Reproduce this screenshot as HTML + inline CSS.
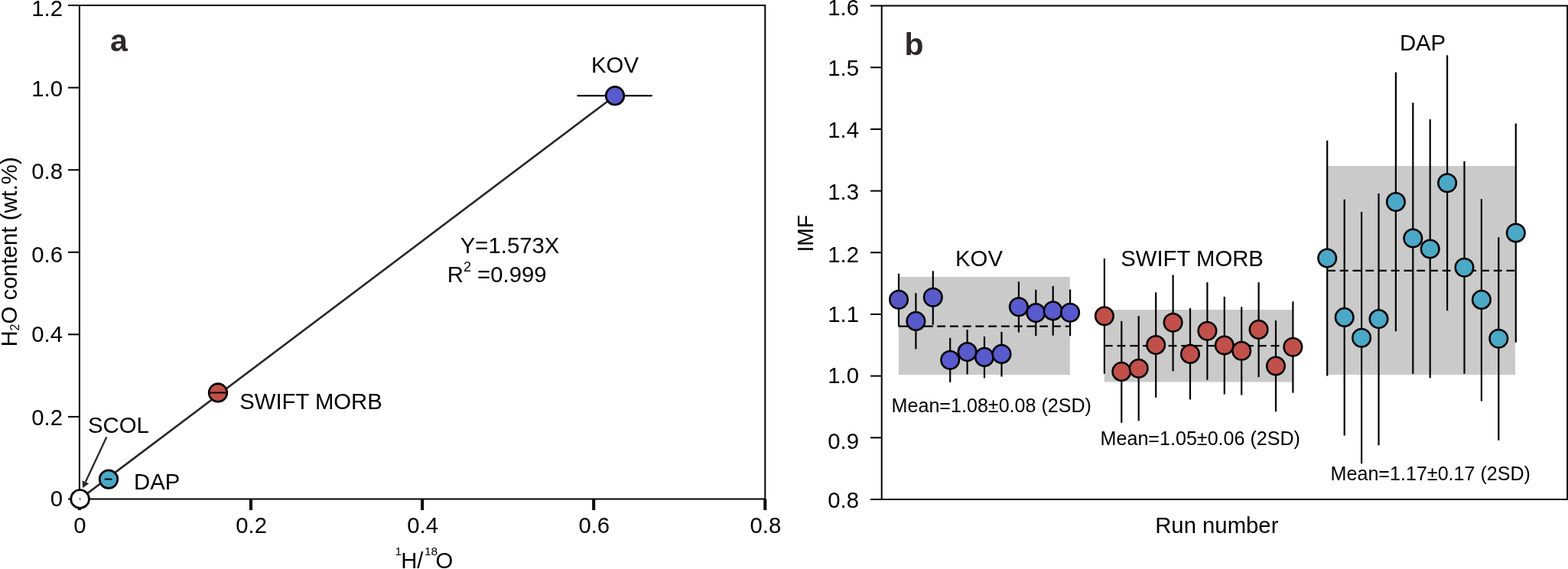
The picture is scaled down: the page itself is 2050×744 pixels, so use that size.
<!DOCTYPE html>
<html><head><meta charset="utf-8"><title>Figure</title>
<style>
html,body{margin:0;padding:0;background:#fff;width:2050px;height:744px;overflow:hidden}
svg{display:block}
text{font-family:"Liberation Sans", Arial, Helvetica, sans-serif;fill:#000}
.t{font-size:29.3px}
.m{font-size:25.1px}
.lbl{font-size:41px;font-weight:bold;fill:#2f2828}
.sup{font-size:18px}
.sup2{font-size:15.5px}
.sub{font-size:16px}
</style></head><body>
<svg width="2050" height="744" viewBox="0 0 2050 744">
<path d="M103.9 652.5 V7.0 H1000.3 V652.5 Z" fill="none" stroke="#000" stroke-width="2.0"/>
<line x1="89" y1="652.5" x2="103.9" y2="652.5" stroke="#000" stroke-width="2.0"/>
<line x1="89" y1="544.9" x2="103.9" y2="544.9" stroke="#000" stroke-width="2.0"/>
<line x1="89" y1="437.3" x2="103.9" y2="437.3" stroke="#000" stroke-width="2.0"/>
<line x1="89" y1="329.8" x2="103.9" y2="329.8" stroke="#000" stroke-width="2.0"/>
<line x1="89" y1="222.2" x2="103.9" y2="222.2" stroke="#000" stroke-width="2.0"/>
<line x1="89" y1="114.6" x2="103.9" y2="114.6" stroke="#000" stroke-width="2.0"/>
<line x1="89" y1="7.0" x2="103.9" y2="7.0" stroke="#000" stroke-width="2.0"/>
<line x1="103.9" y1="652.5" x2="103.9" y2="667" stroke="#000" stroke-width="4"/>
<line x1="328.0" y1="652.5" x2="328.0" y2="667" stroke="#000" stroke-width="4"/>
<line x1="552.1" y1="652.5" x2="552.1" y2="667" stroke="#000" stroke-width="4"/>
<line x1="776.2" y1="652.5" x2="776.2" y2="667" stroke="#000" stroke-width="4"/>
<line x1="1000.3" y1="652.5" x2="1000.3" y2="667" stroke="#000" stroke-width="4"/>
<text x="82.00" y="661.5" class="t" text-anchor="end">0</text>
<text x="82.00" y="556.3" class="t" text-anchor="end">0.2</text>
<text x="82.00" y="447.1" class="t" text-anchor="end">0.4</text>
<text x="82.00" y="342.9" class="t" text-anchor="end">0.6</text>
<text x="82.00" y="233.9" class="t" text-anchor="end">0.8</text>
<text x="82.00" y="125.9" class="t" text-anchor="end">1.0</text>
<text x="82.00" y="21.0" class="t" text-anchor="end">1.2</text>
<text x="104.50" y="697" class="t" text-anchor="middle">0</text>
<text x="328.60" y="697" class="t" text-anchor="middle">0.2</text>
<text x="552.70" y="697" class="t" text-anchor="middle">0.4</text>
<text x="776.80" y="697" class="t" text-anchor="middle">0.6</text>
<text x="1000.90" y="697" class="t" text-anchor="middle">0.8</text>
<line x1="104.6" y1="652.4" x2="804" y2="125.2" stroke="#2b2626" stroke-width="2.6"/>
<line x1="754.5" y1="125.2" x2="852.7" y2="125.2" stroke="#000" stroke-width="2.2"/>
<line x1="139.3" y1="571.4" x2="111.9" y2="630.0" stroke="#2b2626" stroke-width="2.3"/>
<polygon points="108.2,637.9 107.6,628.3 116.3,632.2" fill="#2b2626"/>
<circle cx="804.0" cy="125.2" r="11.8" fill="#585acd" stroke="#000" stroke-width="2.7"/>
<circle cx="285" cy="513.5" r="11.8" fill="#c2504a" stroke="#000" stroke-width="2.7"/>
<line x1="275" y1="513.5" x2="295.4" y2="513.5" stroke="#000" stroke-width="2"/>
<circle cx="142" cy="626.6" r="11.8" fill="#4ba8c6" stroke="#000" stroke-width="2.7"/>
<line x1="136.7" y1="626.6" x2="146.5" y2="626.6" stroke="#000" stroke-width="2"/>
<circle cx="104.6" cy="652.4" r="11.9" fill="#fff" stroke="#000" stroke-width="2.7"/>
<circle cx="104.6" cy="652.4" r="0.9" fill="#000"/>
<text x="144" y="66.9" class="lbl">a</text>
<text x="804.00" y="95" class="t" text-anchor="middle">KOV</text>
<text x="313.20" y="534.9" class="t">SWIFT MORB</text>
<text x="115.00" y="565.8" class="t">SCOL</text>
<text x="175.00" y="639.7" class="t">DAP</text>
<text x="601.80" y="331" class="t">Y=1.573X</text>
<text x="584.80" y="368.7" class="t">R<tspan class="sup" dy="-13.7">2</tspan><tspan dy="13.7"> =0.999</tspan></text>
<text transform="translate(22.3,453.6) rotate(-90) scale(1.0,1)" class="t">H<tspan class="sub" dy="2.2">2</tspan><tspan dy="-2.2">O content (wt.%)</tspan></text>
<text x="516.50" y="743" transform="scale(1.0,1)" class="t"><tspan class="sup2" dy="-16.7">1</tspan><tspan x="524.20" dy="16.7">H/</tspan><tspan class="sup2" x="555.00" dy="-16.7">18</tspan><tspan x="569.60" dy="16.7">O</tspan></text>
<path d="M1152.7 653.0 V7.5 H2049.2 V653.0 Z" fill="none" stroke="#000" stroke-width="2.0"/>
<line x1="1138" y1="653.0" x2="1152.7" y2="653.0" stroke="#000" stroke-width="2.0"/>
<text x="1123.00" y="663.7" class="t" text-anchor="end">0.8</text>
<line x1="1138" y1="572.3" x2="1152.7" y2="572.3" stroke="#000" stroke-width="2.0"/>
<text x="1123.00" y="587.1" class="t" text-anchor="end">0.9</text>
<line x1="1138" y1="491.6" x2="1152.7" y2="491.6" stroke="#000" stroke-width="2.0"/>
<text x="1123.00" y="501.0" class="t" text-anchor="end">1.0</text>
<line x1="1138" y1="410.9" x2="1152.7" y2="410.9" stroke="#000" stroke-width="2.0"/>
<text x="1123.00" y="420.6" class="t" text-anchor="end">1.1</text>
<line x1="1138" y1="330.2" x2="1152.7" y2="330.2" stroke="#000" stroke-width="2.0"/>
<text x="1123.00" y="343.1" class="t" text-anchor="end">1.2</text>
<line x1="1138" y1="249.6" x2="1152.7" y2="249.6" stroke="#000" stroke-width="2.0"/>
<text x="1123.00" y="261.0" class="t" text-anchor="end">1.3</text>
<line x1="1138" y1="168.9" x2="1152.7" y2="168.9" stroke="#000" stroke-width="2.0"/>
<text x="1123.00" y="179.8" class="t" text-anchor="end">1.4</text>
<line x1="1138" y1="88.2" x2="1152.7" y2="88.2" stroke="#000" stroke-width="2.0"/>
<text x="1123.00" y="98.8" class="t" text-anchor="end">1.5</text>
<line x1="1138" y1="7.5" x2="1152.7" y2="7.5" stroke="#000" stroke-width="2.0"/>
<text x="1123.00" y="20.2" class="t" text-anchor="end">1.6</text>
<rect x="1174.8" y="362" width="224" height="128" fill="#c9cac9"/>
<rect x="1443.8" y="405" width="245.7" height="94.5" fill="#c9cac9"/>
<rect x="1735.3" y="217" width="245.8" height="273" fill="#c9cac9"/>
<line x1="1174.8" y1="426.6" x2="1220" y2="426.6" stroke="#000" stroke-width="2.2"/>
<line x1="1225.2" y1="426.6" x2="1398.8" y2="426.6" stroke="#000" stroke-width="2.2" stroke-dasharray="10.85 5.9"/>
<line x1="1443.8" y1="452.2" x2="1690" y2="452.2" stroke="#000" stroke-width="2.2" stroke-dasharray="10.85 5.9"/>
<line x1="1735" y1="353.8" x2="1981" y2="353.8" stroke="#000" stroke-width="2.2" stroke-dasharray="10.85 5.9"/>
<line x1="1175.0" y1="357.8" x2="1175.0" y2="426.8" stroke="#000" stroke-width="2.2"/>
<line x1="1197.4" y1="383.2" x2="1197.4" y2="456.5" stroke="#000" stroke-width="2.2"/>
<line x1="1219.8" y1="354.3" x2="1219.8" y2="424.8" stroke="#000" stroke-width="2.2"/>
<line x1="1242.2" y1="441.8" x2="1242.2" y2="499.8" stroke="#000" stroke-width="2.2"/>
<line x1="1264.6" y1="431.1" x2="1264.6" y2="489.5" stroke="#000" stroke-width="2.2"/>
<line x1="1287.0" y1="440" x2="1287.0" y2="494.4" stroke="#000" stroke-width="2.2"/>
<line x1="1309.5" y1="433.9" x2="1309.5" y2="492.5" stroke="#000" stroke-width="2.2"/>
<line x1="1331.9" y1="368.3" x2="1331.9" y2="434.6" stroke="#000" stroke-width="2.2"/>
<line x1="1354.3" y1="378.8" x2="1354.3" y2="439.3" stroke="#000" stroke-width="2.2"/>
<line x1="1376.7" y1="374.1" x2="1376.7" y2="438.7" stroke="#000" stroke-width="2.2"/>
<line x1="1399.1" y1="378.6" x2="1399.1" y2="439.3" stroke="#000" stroke-width="2.2"/>
<line x1="1443.9" y1="338.1" x2="1443.9" y2="488.7" stroke="#000" stroke-width="2.2"/>
<line x1="1466.3" y1="419.8" x2="1466.3" y2="552.8" stroke="#000" stroke-width="2.2"/>
<line x1="1488.7" y1="413.1" x2="1488.7" y2="550.3" stroke="#000" stroke-width="2.2"/>
<line x1="1511.2" y1="382.4" x2="1511.2" y2="519.8" stroke="#000" stroke-width="2.2"/>
<line x1="1533.6" y1="359.5" x2="1533.6" y2="485.3" stroke="#000" stroke-width="2.2"/>
<line x1="1556.0" y1="403" x2="1556.0" y2="522.4" stroke="#000" stroke-width="2.2"/>
<line x1="1578.4" y1="369.1" x2="1578.4" y2="496.8" stroke="#000" stroke-width="2.2"/>
<line x1="1600.8" y1="387.9" x2="1600.8" y2="515.5" stroke="#000" stroke-width="2.2"/>
<line x1="1623.2" y1="401.2" x2="1623.2" y2="516.6" stroke="#000" stroke-width="2.2"/>
<line x1="1645.6" y1="369.1" x2="1645.6" y2="493.1" stroke="#000" stroke-width="2.2"/>
<line x1="1668.0" y1="419" x2="1668.0" y2="538.3" stroke="#000" stroke-width="2.2"/>
<line x1="1690.4" y1="394.3" x2="1690.4" y2="513.7" stroke="#000" stroke-width="2.2"/>
<line x1="1735.2" y1="183.7" x2="1735.2" y2="491.5" stroke="#000" stroke-width="2.2"/>
<line x1="1757.7" y1="260.8" x2="1757.7" y2="569.4" stroke="#000" stroke-width="2.2"/>
<line x1="1780.1" y1="277.1" x2="1780.1" y2="606.3" stroke="#000" stroke-width="2.2"/>
<line x1="1802.5" y1="253.1" x2="1802.5" y2="582.2" stroke="#000" stroke-width="2.2"/>
<line x1="1824.9" y1="94.5" x2="1824.9" y2="433.2" stroke="#000" stroke-width="2.2"/>
<line x1="1847.3" y1="134.2" x2="1847.3" y2="488.7" stroke="#000" stroke-width="2.2"/>
<line x1="1869.7" y1="156.1" x2="1869.7" y2="494.3" stroke="#000" stroke-width="2.2"/>
<line x1="1892.1" y1="72.3" x2="1892.1" y2="406.2" stroke="#000" stroke-width="2.2"/>
<line x1="1914.5" y1="211" x2="1914.5" y2="488.7" stroke="#000" stroke-width="2.2"/>
<line x1="1936.9" y1="260.3" x2="1936.9" y2="524.5" stroke="#000" stroke-width="2.2"/>
<line x1="1959.3" y1="310.3" x2="1959.3" y2="575.7" stroke="#000" stroke-width="2.2"/>
<line x1="1981.8" y1="161.6" x2="1981.8" y2="447.8" stroke="#000" stroke-width="2.2"/>
<circle cx="1175.0" cy="391.8" r="11.8" fill="#5757c4" stroke="#000" stroke-width="2.5"/>
<circle cx="1197.4" cy="419.9" r="11.8" fill="#585acd" stroke="#000" stroke-width="2.5"/>
<circle cx="1219.8" cy="388.8" r="11.8" fill="#585acd" stroke="#000" stroke-width="2.5"/>
<circle cx="1242.2" cy="470.8" r="11.8" fill="#585acd" stroke="#000" stroke-width="2.5"/>
<circle cx="1264.6" cy="460.1" r="11.8" fill="#585acd" stroke="#000" stroke-width="2.5"/>
<circle cx="1287.0" cy="466.9" r="11.8" fill="#585acd" stroke="#000" stroke-width="2.5"/>
<circle cx="1309.5" cy="462.9" r="11.8" fill="#585acd" stroke="#000" stroke-width="2.5"/>
<circle cx="1331.9" cy="401.3" r="11.8" fill="#585acd" stroke="#000" stroke-width="2.5"/>
<circle cx="1354.3" cy="409.1" r="11.8" fill="#585acd" stroke="#000" stroke-width="2.5"/>
<circle cx="1376.7" cy="406.4" r="11.8" fill="#585acd" stroke="#000" stroke-width="2.5"/>
<circle cx="1399.1" cy="408.8" r="11.8" fill="#585acd" stroke="#000" stroke-width="2.5"/>
<circle cx="1443.9" cy="413.3" r="11.8" fill="#c2504a" stroke="#000" stroke-width="2.5"/>
<circle cx="1466.3" cy="485.9" r="11.8" fill="#c2504a" stroke="#000" stroke-width="2.5"/>
<circle cx="1488.7" cy="481.8" r="11.8" fill="#c2504a" stroke="#000" stroke-width="2.5"/>
<circle cx="1511.2" cy="451.1" r="11.8" fill="#c2504a" stroke="#000" stroke-width="2.5"/>
<circle cx="1533.6" cy="421.7" r="11.8" fill="#c2504a" stroke="#000" stroke-width="2.5"/>
<circle cx="1556.0" cy="462.9" r="11.8" fill="#c2504a" stroke="#000" stroke-width="2.5"/>
<circle cx="1578.4" cy="432.7" r="11.8" fill="#c2504a" stroke="#000" stroke-width="2.5"/>
<circle cx="1600.8" cy="451.5" r="11.8" fill="#c2504a" stroke="#000" stroke-width="2.5"/>
<circle cx="1623.2" cy="458.8" r="11.8" fill="#c2504a" stroke="#000" stroke-width="2.5"/>
<circle cx="1645.6" cy="430.9" r="11.8" fill="#c2504a" stroke="#000" stroke-width="2.5"/>
<circle cx="1668.0" cy="478.5" r="11.8" fill="#c2504a" stroke="#000" stroke-width="2.5"/>
<circle cx="1690.4" cy="453.8" r="11.8" fill="#c2504a" stroke="#000" stroke-width="2.5"/>
<circle cx="1735.2" cy="337.6" r="11.8" fill="#4ba8c6" stroke="#000" stroke-width="2.5"/>
<circle cx="1757.7" cy="414.9" r="11.8" fill="#4ba8c6" stroke="#000" stroke-width="2.5"/>
<circle cx="1780.1" cy="441.8" r="11.8" fill="#4ba8c6" stroke="#000" stroke-width="2.5"/>
<circle cx="1802.5" cy="417.1" r="11.8" fill="#4ba8c6" stroke="#000" stroke-width="2.5"/>
<circle cx="1824.9" cy="264.1" r="11.8" fill="#4ba8c6" stroke="#000" stroke-width="2.5"/>
<circle cx="1847.3" cy="311.5" r="11.8" fill="#4ba8c6" stroke="#000" stroke-width="2.5"/>
<circle cx="1869.7" cy="325.5" r="11.8" fill="#4ba8c6" stroke="#000" stroke-width="2.5"/>
<circle cx="1892.1" cy="239.2" r="11.8" fill="#4ba8c6" stroke="#000" stroke-width="2.5"/>
<circle cx="1914.5" cy="349.8" r="11.8" fill="#4ba8c6" stroke="#000" stroke-width="2.5"/>
<circle cx="1936.9" cy="391.9" r="11.8" fill="#4ba8c6" stroke="#000" stroke-width="2.5"/>
<circle cx="1959.3" cy="442.7" r="11.8" fill="#4ba8c6" stroke="#000" stroke-width="2.5"/>
<circle cx="1981.8" cy="304.5" r="11.8" fill="#4ba8c6" stroke="#000" stroke-width="2.5"/>
<text x="1182.6" y="71.8" class="lbl">b</text>
<text x="1280.00" y="347.8" class="t" text-anchor="middle">KOV</text>
<text x="1558.60" y="347.9" class="t" text-anchor="middle">SWIFT MORB</text>
<text x="1860.00" y="65.8" class="t" text-anchor="middle">DAP</text>
<text x="1165.6" y="538.7" class="m">Mean=1.08±0.08 (2SD)</text>
<text x="1438.6" y="582" class="m">Mean=1.05±0.06 (2SD)</text>
<text x="1739.6" y="628" class="m">Mean=1.17±0.17 (2SD)</text>
<text x="1590.80" y="696.8" class="t" text-anchor="middle">Run number</text>
<text transform="translate(1062.8,329.6) rotate(-90) scale(0.965,1)" class="t">IMF</text>
</svg>
</body></html>
